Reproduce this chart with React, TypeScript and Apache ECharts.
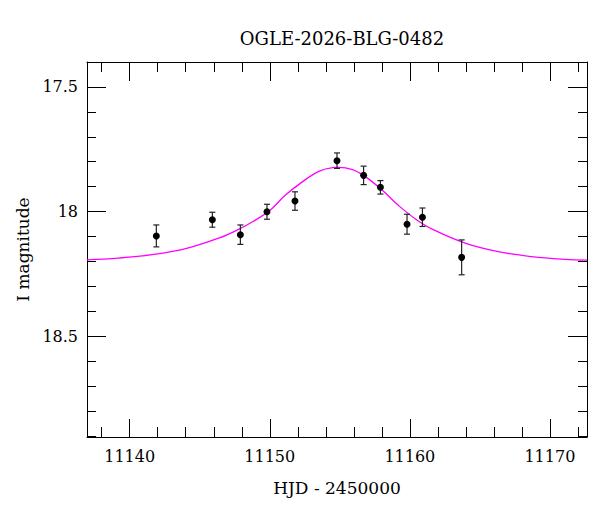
import React, { useEffect, useRef } from 'react';
import * as echarts from 'echarts';

// 观测点：HJD - 2450000，I 星等，误差
const OBS_T = [11141.9, 11145.9, 11147.9, 11149.8, 11151.8, 11154.8, 11156.7, 11157.9, 11159.8, 11160.9, 11163.7];
const OBS_MAG = [18.098, 18.033, 18.093, 18.001, 17.958, 17.796, 17.855, 17.903, 18.051, 18.023, 18.184];
const OBS_ERR = [0.044, 0.03, 0.039, 0.03, 0.037, 0.031, 0.037, 0.027, 0.04, 0.037, 0.07];

// 模型曲线
const CURVE_T = [
  11136.95, 11139.2, 11141.6, 11144.0, 11146.4, 11147.8, 11148.8, 11150.0, 11151.1, 11152.3,
  11153.5, 11154.5, 11154.9, 11155.9, 11156.8, 11158.0, 11159.2, 11160.4, 11161.6, 11164.0,
  11166.3, 11168.7, 11171.1, 11172.65,
];
const CURVE_MAG = [
  18.194, 18.187, 18.173, 18.149, 18.106, 18.071, 18.04, 17.996, 17.935, 17.882,
  17.839, 17.824, 17.823, 17.832, 17.859, 17.913, 17.976, 18.03, 18.071, 18.128,
  18.161, 18.181, 18.192, 18.195,
];

// 刻度
const X_MAJOR = [11140, 11150, 11160, 11170];
const X_MINOR = [11138, 11140, 11142, 11144, 11146, 11148, 11150, 11152, 11154, 11156, 11158, 11160, 11162, 11164, 11166, 11168, 11170, 11172];
const Y_MAJOR = [17.5, 18, 18.5];
const Y_MINOR = [17.4, 17.5, 17.6, 17.7, 17.8, 17.9, 18.0, 18.1, 18.2, 18.3, 18.4, 18.5, 18.6, 18.7, 18.8, 18.9];

const X_MIN = 11136.95;
const X_MAX = 11172.65;
const Y_MIN = 17.4;
const Y_MAX = 18.905;

const FONT = 'DejaVu Serif';

export default function App() {
  const ref = useRef<HTMLDivElement>(null);

  useEffect(() => {
    if (!ref.current) return;
    const chart = echarts.init(ref.current, null, { renderer: 'svg' });

    const lineStyle = { color: '#000', width: 1 };
    const xAxisBase = { type: 'value', min: X_MIN, max: X_MAX, splitLine: { show: false } };
    const yAxisBase = { type: 'value', min: Y_MIN, max: Y_MAX, inverse: true, splitLine: { show: false } };

    const makeX = (position: string, values: number[], len: number, main: boolean) => ({
      ...xAxisBase,
      position,
      axisLine: { show: main, onZero: false, lineStyle },
      axisTick: { show: true, inside: true, length: len, customValues: values, lineStyle },
      axisLabel: main && position === 'bottom'
        ? {
            show: true,
            customValues: X_MAJOR,
            margin: 11,
            color: '#000',
            fontFamily: FONT,
            fontSize: 16,
            formatter: (v: number) => String(v),
          }
        : { show: false },
      name: main && position === 'bottom' ? 'HJD - 2450000' : '',
      nameLocation: 'middle',
      nameGap: 42,
      nameTextStyle: { color: '#000', fontFamily: FONT, fontSize: 17 },
    });

    const makeY = (position: string, values: number[], len: number, main: boolean) => ({
      ...yAxisBase,
      position,
      axisLine: { show: main, onZero: false, lineStyle },
      axisTick: { show: true, inside: true, length: len, customValues: values, lineStyle },
      axisLabel: main && position === 'left'
        ? {
            show: true,
            customValues: Y_MAJOR,
            margin: 9,
            color: '#000',
            fontFamily: FONT,
            fontSize: 16,
            formatter: (v: number) => String(v),
          }
        : { show: false },
      name: main && position === 'left' ? 'I magnitude' : '',
      nameLocation: 'middle',
      nameGap: 56,
      nameTextStyle: { color: '#000', fontFamily: FONT, fontSize: 17 },
    });

    const errData = OBS_T.map((t, i) => [t, OBS_MAG[i], OBS_ERR[i]]);

    chart.setOption({
      animation: false,
      backgroundColor: '#fff',
      title: {
        text: 'OGLE-2026-BLG-0482',
        left: 337,
        textAlign: 'center',
        top: 24,
        textStyle: { color: '#000', fontFamily: FONT, fontSize: 18, fontWeight: 'normal' },
      },
      grid: { left: 87, right: 13, top: 62, bottom: 75 },
      xAxis: [
        makeX('bottom', X_MAJOR, 18, true),
        makeX('bottom', X_MINOR, 10, false),
        makeX('top', X_MAJOR, 19, true),
        makeX('top', X_MINOR, 10, false),
      ],
      yAxis: [
        makeY('left', Y_MAJOR, 19, true),
        makeY('left', Y_MINOR, 9, false),
        makeY('right', Y_MAJOR, 19, true),
        makeY('right', Y_MINOR, 9, false),
      ],
      series: [
        {
          type: 'line',
          data: CURVE_T.map((t, i) => [t, CURVE_MAG[i]]),
          smooth: 0.4,
          showSymbol: false,
          lineStyle: { color: '#ff00ff', width: 1.3 },
          z: 1,
        },
        {
          type: 'custom',
          data: errData,
          z: 2,
          renderItem: (_params: any, api: any) => {
            const t = api.value(0);
            const m = api.value(1);
            const e = api.value(2);
            const top = api.coord([t, m - e]);
            const bot = api.coord([t, m + e]);
            const style = { stroke: '#222', lineWidth: 1.2 };
            return {
              type: 'group',
              children: [
                { type: 'line', shape: { x1: top[0], y1: top[1], x2: bot[0], y2: bot[1] }, style },
                { type: 'line', shape: { x1: top[0] - 3, y1: top[1], x2: top[0] + 3, y2: top[1] }, style },
                { type: 'line', shape: { x1: bot[0] - 3, y1: bot[1], x2: bot[0] + 3, y2: bot[1] }, style },
              ],
            };
          },
        },
        {
          type: 'scatter',
          data: OBS_T.map((t, i) => [t, OBS_MAG[i]]),
          symbol: 'circle',
          symbolSize: 7,
          itemStyle: { color: '#000', opacity: 1 },
          z: 3,
        },
      ],
    });

    return () => {
      chart.dispose();
    };
  }, []);

  return <div ref={ref} style={{ position: 'fixed', left: 0, top: 0, width: 600, height: 512 }} />;
}
